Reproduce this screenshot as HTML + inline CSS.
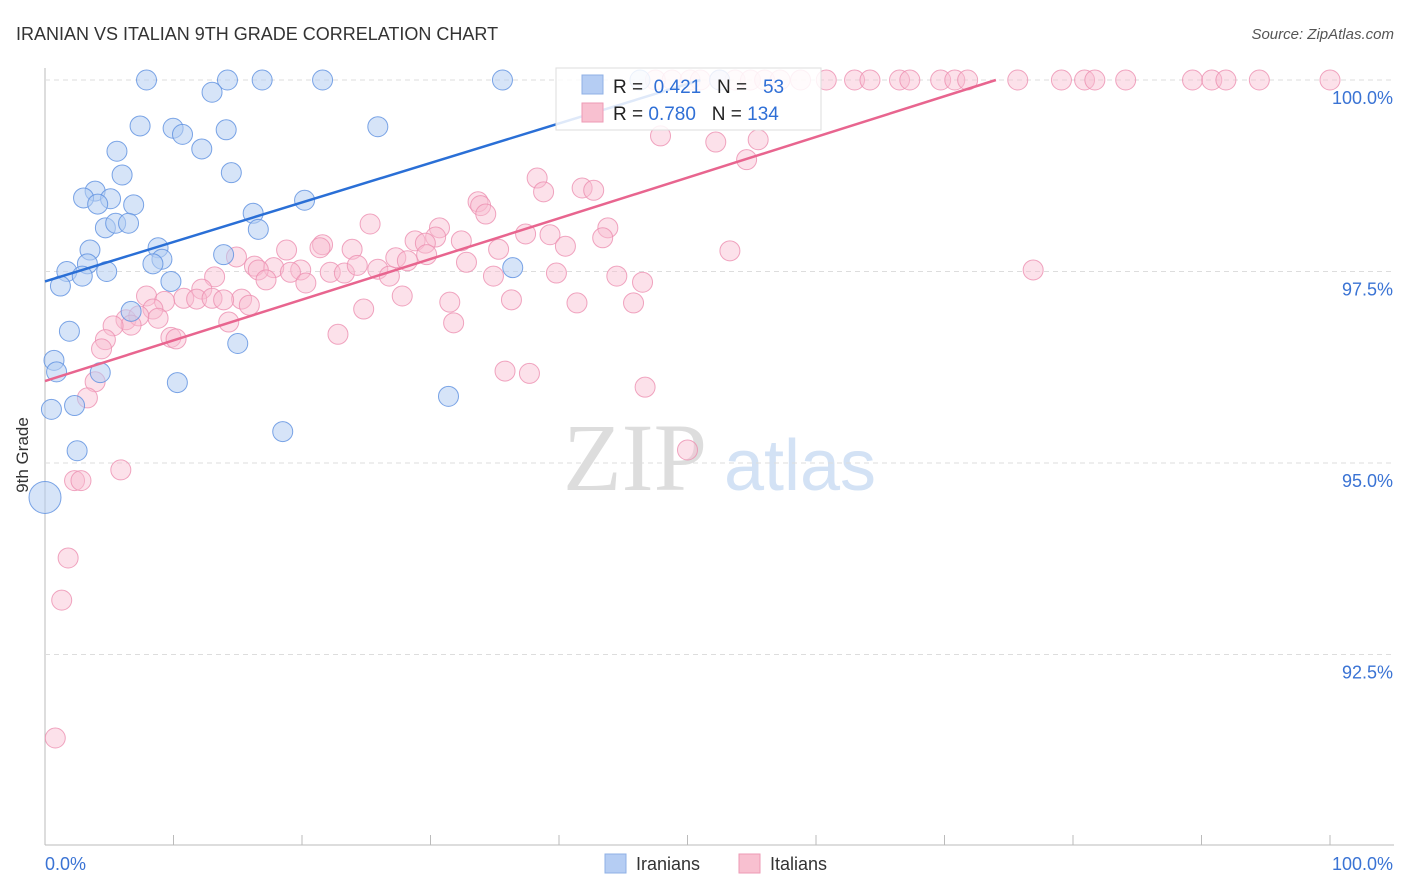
<!DOCTYPE html>
<html><head><meta charset="utf-8"><style>
body{margin:0;background:#fff;font-family:"Liberation Sans",sans-serif}
svg{display:block}
</style></head><body>
<svg id="c" width="1406" height="892">
<text x="16" y="40" font-size="18" fill="#333">IRANIAN VS ITALIAN 9TH GRADE CORRELATION CHART</text>
<text x="1394" y="39" font-size="15" fill="#555" font-style="italic" text-anchor="end">Source: ZipAtlas.com</text>
<text x="28" y="455" font-size="17" fill="#333" transform="rotate(-90 28 455)" text-anchor="middle">9th Grade</text>
<text x="635" y="490" font-size="96" fill="#ddd" font-family="Liberation Serif" text-anchor="middle">ZIP</text>
<text x="800" y="490" font-size="72" fill="#d3e2f5" text-anchor="middle">atlas</text>
<g id="grid"></g><g id="pts"></g><g id="lines"></g>
<g>
<rect x="556" y="68" width="265" height="62" fill="#fff" fill-opacity="0.85" stroke="#ddd"/>
<rect x="582" y="75" width="21" height="19" fill="#b5cdf3" stroke="#8fb0e6"/>
<rect x="582" y="103" width="21" height="19" fill="#f8c0d0" stroke="#ee9ab5"/>
<text x="613" y="93" font-size="19" fill="#222">R = <tspan fill="#2f6fd6">&#160;0.421</tspan>&#160;&#160;&#160;N = <tspan fill="#2f6fd6">&#160;&#160;53</tspan></text>
<text x="613" y="120" font-size="19" fill="#222">R = <tspan fill="#2f6fd6">0.780</tspan>&#160;&#160;&#160;N = <tspan fill="#2f6fd6">134</tspan></text>
</g>
<g>
<rect x="605" y="854" width="21" height="19" fill="#b5cdf3" stroke="#8fb0e6"/>
<text x="636" y="870" font-size="18" fill="#333">Iranians</text>
<rect x="739" y="854" width="21" height="19" fill="#f8c0d0" stroke="#ee9ab5"/>
<text x="770" y="870" font-size="18" fill="#333">Italians</text>
</g>
</svg>
<script>
const yTicks=[100,97.5,95,92.5];
const yTickLabels=["100.0%","97.5%","95.0%","92.5%"];
const xTickLabels=["0.0%","100.0%"];
const iranX=[7.9,14.2,16.9,21.6,35.6,13,7.4,9.97,10.7,14.1,25.9,12.2,5.6,6,14.5,3.9,3,5.1,4.1,6.9,20.2,16.2,4.7,5.5,6.5,16.6,3.5,8.8,9.1,13.9,8.4,1.7,3.3,4.8,2.9,9.8,1.2,36.4,6.7,1.9,15,0.7,0.9,4.3,10.3,0.5,2.3,31.4,2.5,18.5,0,46.3,52.5];
const iranY=[100,100,100,100,100,99.84,99.4,99.37,99.29,99.35,99.39,99.1,99.07,98.76,98.79,98.55,98.46,98.45,98.38,98.37,98.43,98.26,98.07,98.13,98.13,98.05,97.78,97.81,97.66,97.72,97.6,97.5,97.6,97.5,97.44,97.37,97.31,97.55,96.98,96.72,96.56,96.34,96.19,96.18,96.05,95.7,95.75,95.87,95.16,95.41,94.55,100,100];
const italTopX=[47.5,48.8,50.2,51,52.5,53.7,54.9,56,57.2,58.8,60.8,63,64.2,66.5,67.3,69.7,70.8,71.8,75.7,79.1,80.9,81.7,84.1,89.3,90.8,91.9,94.5,100];
const italX=[47.9,52.2,54.6,55.5,38.3,38.8,41.8,42.7,33.7,33.9,34.3,25.3,43.8,37.4,39.3,30.7,30.4,28.8,29.6,32.4,40.5,35.3,43.4,53.3,18.8,21.6,23.9,21.4,14.9,16.3,17.8,16.6,19.9,19.1,17.2,20.3,22.2,23.3,24.3,25.9,26.8,27.3,28.2,29.7,32.8,34.9,39.8,44.5,46.5,76.9,13.2,12.2,15.3,10.8,11.8,13.0,13.9,15.9,7.9,9.3,8.4,8.8,6.3,7.3,6.7,5.3,4.7,4.4,14.3,9.8,10.2,22.8,24.8,27.8,31.5,31.8,36.3,41.4,45.8,35.8,37.7,46.7,3.9,3.3,5.9,2.3,2.8,1.8,1.3,50.0,0.8];
const italY=[99.27,99.19,98.96,99.22,98.72,98.54,98.59,98.56,98.41,98.36,98.25,98.12,98.07,97.99,97.98,98.07,97.95,97.9,97.87,97.9,97.83,97.79,97.94,97.77,97.78,97.85,97.79,97.81,97.69,97.57,97.55,97.52,97.52,97.49,97.39,97.35,97.49,97.48,97.58,97.53,97.44,97.68,97.64,97.72,97.62,97.44,97.48,97.44,97.36,97.52,97.43,97.27,97.14,97.15,97.14,97.15,97.13,97.06,97.18,97.11,97.01,96.89,96.87,96.92,96.8,96.79,96.61,96.49,96.84,96.64,96.62,96.68,97.01,97.18,97.1,96.83,97.13,97.09,97.09,96.2,96.17,95.99,96.06,95.85,94.91,94.77,94.77,93.76,93.21,95.17,91.41];
const X=v=>45+v*12.85, Y=v=>80+(100-v)*76.6;
const NS="http://www.w3.org/2000/svg";
function mk(t,a,p){const e=document.createElementNS(NS,t);for(const k in a)e.setAttribute(k,a[k]);p.appendChild(e);return e;}
const g=document.getElementById('grid');
mk('line',{x1:45,y1:68,x2:45,y2:845,stroke:'#bbb'},g);
mk('line',{x1:45,y1:845,x2:1394,y2:845,stroke:'#bbb'},g);
for(let i=0;i<=10;i++){const l=mk('line',{x1:X(i*10),y1:845,x2:X(i*10),y2:835,stroke:'#bbb'},g);}
yTicks.forEach((t,i)=>{const l=mk('line',{x1:45,y1:Y(t),x2:1394,y2:Y(t),stroke:'#ddd','stroke-dasharray':'5,4'},g);
const tx=mk('text',{x:1393,y:Y(t)+24,'font-size':18,fill:'#3a73d4','text-anchor':'end'},g);tx.textContent=yTickLabels[i];});
[[0,'start',45],[1,'end',1393]].forEach(([i,a,x])=>{const tx=mk('text',{x:x,y:870,'font-size':18,fill:'#3a73d4','text-anchor':a},g);tx.textContent=xTickLabels[i];});
const p=document.getElementById('pts');
function pink(x,y){const c=mk('circle',{cx:X(x),cy:Y(y),r:10,fill:'#f8bcd0','fill-opacity':0.45,stroke:'#ec8fb0','stroke-opacity':0.8},p);

}
italTopX.forEach(v=>pink(v,100));
italX.forEach((v,i)=>pink(v,italY[i]));
iranX.forEach((v,i)=>{const c=mk('circle',{cx:X(v),cy:Y(iranY[i]),r:v===0?16:10,fill:'#b5cdf3','fill-opacity':0.55,stroke:'#5b8fe0','stroke-opacity':0.8},p);});
const L=document.getElementById('lines');
const b=mk('line',{x1:X(0),y1:Y(97.37),x2:X(51),y2:Y(100),stroke:'#2a6fd6','stroke-width':2.5},L);
const r=mk('line',{x1:X(0),y1:Y(96.07),x2:X(74),y2:Y(100),stroke:'#e8658f','stroke-width':2.5},L);
</script>
</body></html>
